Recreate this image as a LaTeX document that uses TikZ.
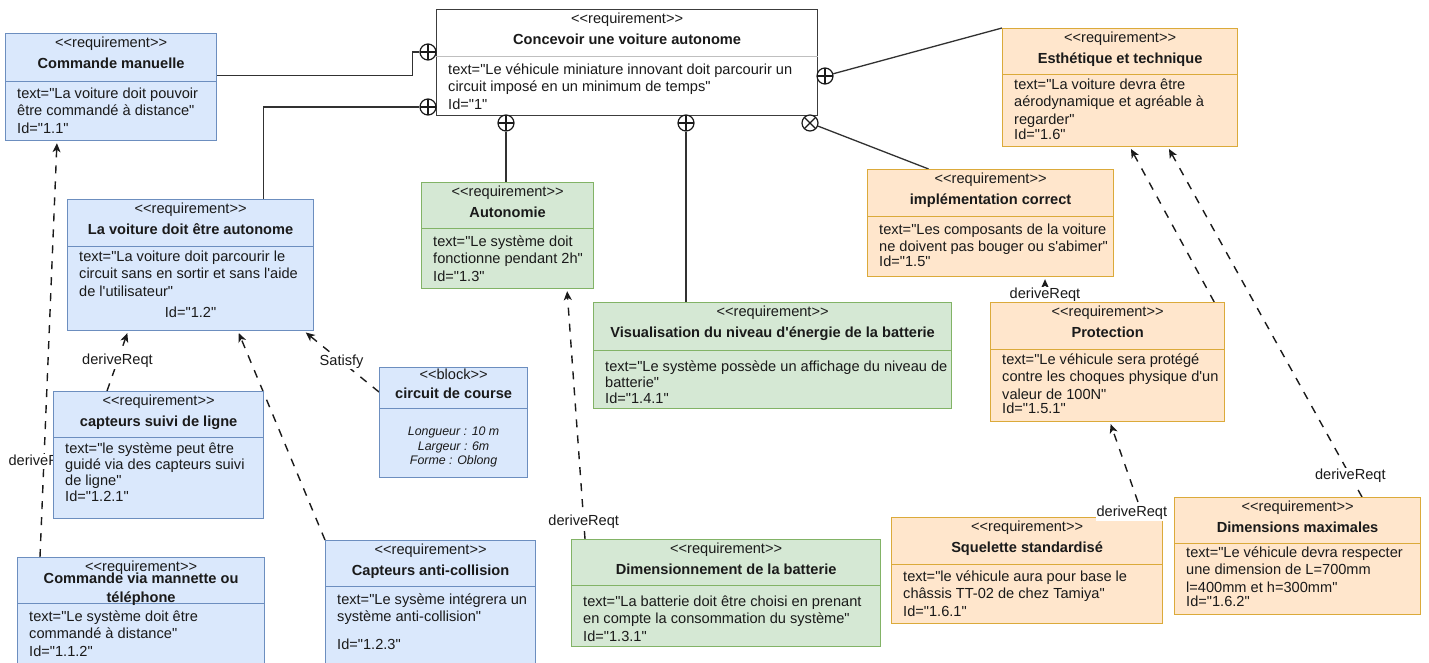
\documentclass[tikz,border=0pt]{standalone}
\usepackage{fontspec}
\newfontfamily\arial{Liberation Sans}
\usetikzlibrary{arrows.meta,backgrounds}

\definecolor{bluef}{HTML}{DAE8FC}
\definecolor{blued}{HTML}{6C8EBF}
\definecolor{greenf}{HTML}{D5E8D4}
\definecolor{greend}{HTML}{82B366}
\definecolor{orangef}{HTML}{FFE6CC}
\definecolor{oranged}{HTML}{DBAA3A}
\definecolor{ink}{HTML}{1A1A1A}

\newcommand{\stereo}{<<requirement>>}

\tikzset{
  box/.style={rectangle, line width=1.2pt, anchor=north west, inner sep=0pt},
  bluebox/.style={box, fill=bluef, draw=blued},
  greenbox/.style={box, fill=greenf, draw=greend},
  orangebox/.style={box, fill=orangef, draw=oranged},
  head/.style={anchor=north, align=center, inner sep=0pt, text=ink,
    font=\arial\fontsize{14.6}{21}\selectfont},
  body/.style={anchor=north west, align=left, inner sep=0pt, text=ink,
    font=\arial\fontsize{14.6}{17.5}\selectfont},
  cont/.style={circle, draw=ink, fill=white, line width=1.2pt, minimum size=16pt, inner sep=0pt,
    path picture={\draw[ink, line width=1.2pt] (path picture bounding box.north) -- (path picture bounding box.south)
      (path picture bounding box.west) -- (path picture bounding box.east);}},
  contx/.style={cont, path picture={\draw[ink, line width=1.2pt] (path picture bounding box.north west) -- (path picture bounding box.south east)
      (path picture bounding box.north east) -- (path picture bounding box.south west);}},
  tie/.style={draw=ink!90, line width=1.3pt},
  derive/.style={draw=ink, line width=1.4pt, dash pattern=on 8pt off 8pt, -{Stealth[length=9pt,width=8pt,inset=2.5pt]}, shorten >=2pt},
  lbl/.style={fill=white, inner sep=1pt, text=ink, solid, font=\arial\fontsize{14.6}{17}\selectfont}
}

\begin{document}
\begin{tikzpicture}[x=1pt, y=-1pt]
  \useasboundingbox (0,0) rectangle (1429,662);

  %main requirement
  \node[box, fill=white, draw=ink!85, minimum width=381pt, minimum height=106pt] (main) at (436,9) {};
  \draw[black!25, line width=1pt] ([yshift=-47pt]main.north west) -- ([yshift=-47pt]main.north east);
  \node[head] (main-h) at ([yshift=-3.6pt]main.north) {\stereo\\\textbf{Concevoir une voiture autonome}};
  \node[body] (main-b) at ([xshift=12pt,yshift=-54.5pt]main.north west) {text="Le véhicule miniature innovant doit parcourir un\\circuit imposé en un minimum de temps"\\Id="1"};

  %blue requirements
  \node[bluebox, minimum width=211pt, minimum height=107pt] (cm) at (5,33) {};
  \draw[blued, line width=1pt] ([yshift=-48pt]cm.north west) -- ([yshift=-48pt]cm.north east);
  \node[head] (cm-h) at ([yshift=-3.6pt]cm.north) {\stereo\\\textbf{Commande manuelle}};
  \node[body] (cm-b) at ([xshift=12pt,yshift=-54.5pt]cm.north west) {text="La voiture doit pouvoir\\être commandé à distance"\\Id="1.1"};

  \node[bluebox, minimum width=246pt, minimum height=131pt] (auto) at (67,199) {};
  \draw[blued, line width=1pt] ([yshift=-47pt]auto.north west) -- ([yshift=-47pt]auto.north east);
  \node[head] (auto-h) at ([yshift=-3.6pt]auto.north) {\stereo\\\textbf{La voiture doit être autonome}};
  \node[body] (auto-b) at ([xshift=12pt,yshift=-51.5pt]auto.north west) {text="La voiture doit parcourir le\\circuit sans en sortir et sans l'aide\\de l'utilisateur"};
  \node[body, anchor=north] (auto-id) at ([yshift=-107.5pt]auto.north) {Id="1.2"};

  \node[bluebox, minimum width=210pt, minimum height=127pt] (csl) at (53,391) {};
  \draw[blued, line width=1pt] ([yshift=-46pt]csl.north west) -- ([yshift=-46pt]csl.north east);
  \node[head] (csl-h) at ([yshift=-3.6pt]csl.north) {\stereo\\\textbf{capteurs suivi de ligne}};
  \node[body, font=\arial\fontsize{14.6}{16}\selectfont] (csl-b) at ([xshift=12pt,yshift=-51.5pt]csl.north west) {text="le système peut être\\guidé via des capteurs suivi\\de ligne"\\Id="1.2.1"};

  \node[bluebox, minimum width=247pt, minimum height=115pt] (cvm) at (17,557) {};
  \draw[blued, line width=1pt] ([yshift=-46pt]cvm.north west) -- ([yshift=-46pt]cvm.north east);
  \node[head] (cvm-s) at ([yshift=-3.6pt]cvm.north) {\stereo};
  \node[head, font=\arial\bfseries\fontsize{14.6}{19}\selectfont] (cvm-h) at ([yshift=-15.5pt]cvm.north) {Commande via mannette ou\\téléphone};
  \node[body] (cvm-b) at ([xshift=12pt,yshift=-53.5pt]cvm.north west) {text="Le système doit être\\commandé à distance"\\Id="1.1.2"};

  \node[bluebox, minimum width=210pt, minimum height=130pt] (cac) at (325,540) {};
  \draw[blued, line width=1pt] ([yshift=-46pt]cac.north west) -- ([yshift=-46pt]cac.north east);
  \node[head] (cac-h) at ([yshift=-3.6pt]cac.north) {\stereo\\\textbf{Capteurs anti-collision}};
  \node[body] (cac-b) at ([xshift=12pt,yshift=-53.5pt]cac.north west) {text="Le sysème intégrera un\\système anti-collision"\\[10pt]Id="1.2.3"};

  \node[bluebox, minimum width=148pt, minimum height=110pt] (circ) at (379,367) {};
  \draw[blued, line width=1pt] ([yshift=-41pt]circ.north west) -- ([yshift=-41pt]circ.north east);
  \node[head] (circ-h) at ([yshift=-1.6pt]circ.north) {<<block>>\\[-2pt]\textbf{circuit de course}};
  \node[head, font=\arial\fontsize{12.4}{14.5}\selectfont\itshape] (circ-b) at ([yshift=-60pt]circ.north) {Longueur : 10 m\\Largeur : 6m\\Forme : Oblong};

  %green requirements
  \node[greenbox, minimum width=172pt, minimum height=106pt] (autn) at (421,182) {};
  \draw[greend, line width=1pt] ([yshift=-46pt]autn.north west) -- ([yshift=-46pt]autn.north east);
  \node[head] (autn-h) at ([yshift=-3.6pt]autn.north) {\stereo\\\textbf{Autonomie}};
  \node[body] (autn-b) at ([xshift=12pt,yshift=-53.5pt]autn.north west) {text="Le système doit\\fonctionne pendant 2h"\\Id="1.3"};

  \node[greenbox, minimum width=358pt, minimum height=106pt] (visu) at (593,302) {};
  \draw[greend, line width=1pt] ([yshift=-48pt]visu.north west) -- ([yshift=-48pt]visu.north east);
  \node[head] (visu-h) at ([yshift=-3.6pt]visu.north) {\stereo\\\textbf{Visualisation du niveau d'énergie de la batterie}};
  \node[body, font=\arial\fontsize{14.6}{16}\selectfont] (visu-b) at ([xshift=12pt,yshift=-58.5pt]visu.north west) {text="Le système possède un affichage du niveau de\\batterie"\\Id="1.4.1"};

  \node[greenbox, minimum width=309pt, minimum height=107pt] (dimb) at (571,539) {};
  \draw[greend, line width=1pt] ([yshift=-46pt]dimb.north west) -- ([yshift=-46pt]dimb.north east);
  \node[head] (dimb-h) at ([yshift=-3.6pt]dimb.north) {\stereo\\\textbf{Dimensionnement de la batterie}};
  \node[body] (dimb-b) at ([xshift=12pt,yshift=-56.5pt]dimb.north west) {text="La batterie doit être choisi en prenant\\en compte la consommation du système"\\Id="1.3.1"};

  %orange requirements
  \node[orangebox, minimum width=235pt, minimum height=118pt] (esth) at (1002,28) {};
  \draw[oranged, line width=1pt] ([yshift=-46pt]esth.north west) -- ([yshift=-46pt]esth.north east);
  \node[head] (esth-h) at ([yshift=-3.6pt]esth.north) {\stereo\\\textbf{Esthétique et technique}};
  \node[body] (esth-b) at ([xshift=12pt,yshift=-50.5pt]esth.north west) {text="La voiture devra être\\aérodynamique et agréable à\\regarder"\\[-2pt]Id="1.6"};

  \node[orangebox, minimum width=246pt, minimum height=107pt] (impl) at (867,169) {};
  \draw[oranged, line width=1pt] ([yshift=-47pt]impl.north west) -- ([yshift=-47pt]impl.north east);
  \node[head] (impl-h) at ([yshift=-3.6pt]impl.north) {\stereo\\\textbf{implémentation correct}};
  \node[body] (impl-b) at ([xshift=12pt,yshift=-54.5pt]impl.north west) {text="Les composants de la voiture\\ne doivent pas bouger ou s'abimer"\\[-3pt]Id="1.5"};

  \node[orangebox, minimum width=234pt, minimum height=119pt] (prot) at (990,302) {};
  \draw[oranged, line width=1pt] ([yshift=-47pt]prot.north west) -- ([yshift=-47pt]prot.north east);
  \node[head] (prot-h) at ([yshift=-3.6pt]prot.north) {\stereo\\\textbf{Protection}};
  \node[body] (prot-b) at ([xshift=12pt,yshift=-51.5pt]prot.north west) {text="Le véhicule sera protégé\\contre les choques physique d'un\\valeur de 100N"\\[-3pt]Id="1.5.1"};

  \node[orangebox, minimum width=271pt, minimum height=106pt] (sq) at (891,517) {};
  \draw[oranged, line width=1pt] ([yshift=-47pt]sq.north west) -- ([yshift=-47pt]sq.north east);
  \node[head] (sq-h) at ([yshift=-3.6pt]sq.north) {\stereo\\\textbf{Squelette standardisé}};
  \node[body] (sq-b) at ([xshift=12pt,yshift=-53.5pt]sq.north west) {text="le véhicule aura pour base le\\châssis TT-02 de chez Tamiya"\\Id="1.6.1"};

  \node[orangebox, minimum width=246pt, minimum height=117pt] (dim) at (1174,497) {};
  \draw[oranged, line width=1pt] ([yshift=-46pt]dim.north west) -- ([yshift=-46pt]dim.north east);
  \node[head] (dim-h) at ([yshift=-3.6pt]dim.north) {\stereo\\\textbf{Dimensions maximales}};
  \node[body] (dim-b) at ([xshift=12pt,yshift=-49.5pt]dim.north west) {text="Le véhicule devra respecter\\une dimension de L=700mm\\l=400mm et h=300mm"\\[-3pt]Id="1.6.2"};

  %containment ends
  \node[cont] (k1) at (428,52) {};
  \node[cont] (k2) at (428,107) {};
  \node[cont] (k3) at (506,123) {};
  \node[cont] (k4) at (686,123) {};
  \node[cont] (k5) at (825,76) {};
  \node[contx] (k6) at (810,123) {};

  \begin{pgfonlayer}{background}
    \fill[white] (0,0) rectangle (1429,662);
    %containment
    \draw[tie] ([yshift=11.5pt]cm.east) -- ++(195,0) |- (k1);
    \draw[tie] ([xshift=73pt]auto.north) |- (k2);
    \draw[tie] (k3) -- (k3 |- autn.north);
    \draw[tie] (k4) -- (k4 |- visu.north);
    \draw[tie] (k5) -- (esth.north west);
    \draw[tie] (k6) -- ([xshift=-62pt]impl.north);

    %derive and satisfy
    \draw[derive] ([xshift=23pt]cvm.north west) -- node[lbl, pos=0.23] {deriveReqt} ([xshift=52pt]cm.south west);
    \draw[derive] ([xshift=54pt]csl.north west) -- node[lbl, pos=0.5] {deriveReqt} ([xshift=61pt]auto.south west);
    \draw[derive] (cac.north west) -- ([xshift=171pt]auto.south west);
    \draw[derive] ([yshift=-25pt]circ.north west) -- node[lbl, pos=0.5] {Satisfy} ([xshift=-10pt]auto.south east);
    \draw[derive] ([xshift=14pt]dimb.north west) -- node[lbl, pos=0.07] {deriveReqt} ([xshift=146pt]autn.south west);
    \draw[derive] ([xshift=55pt]prot.north west) -- node[lbl, inner sep=0.5pt, pos=0.3] {deriveReqt} ([xshift=178pt]impl.south west);
    \draw[derive] ([xshift=188pt]dim.north west) -- node[lbl, pos=0.06] {deriveReqt} ([xshift=166pt]esth.south west);
    \draw[derive] ([xshift=-11pt]prot.north east) -- ([xshift=128pt]esth.south west);
  \end{pgfonlayer}

  \draw[derive] ([xshift=-20pt]sq.north east) -- node[lbl, pos=0.04, xshift=-10pt] {deriveReqt} ([xshift=120pt]prot.south west);
\end{tikzpicture}
\end{document}
